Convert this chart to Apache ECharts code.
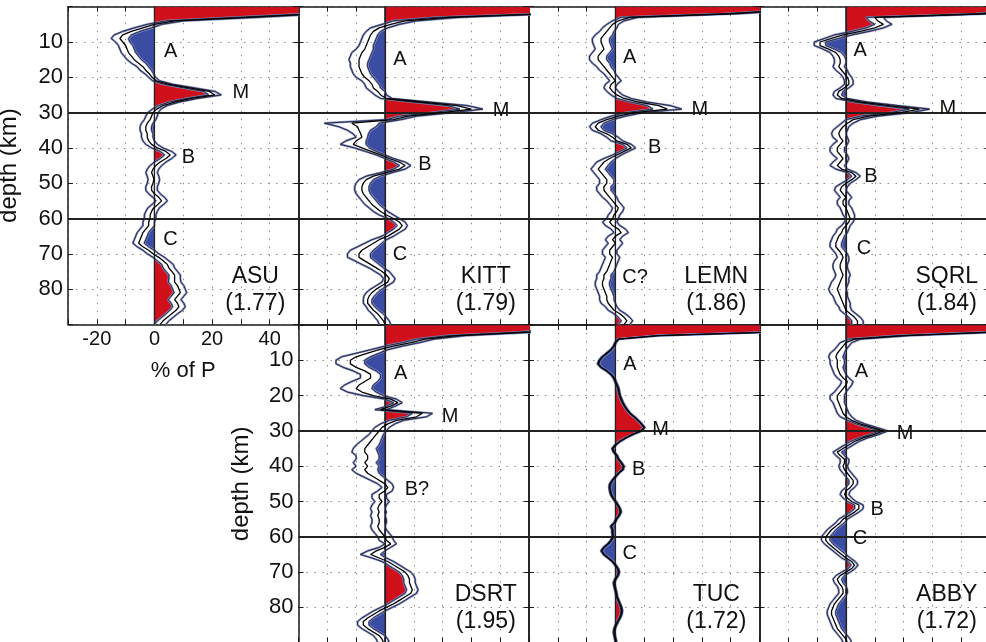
<!DOCTYPE html>
<html lang="en">
<head>
<meta charset="UTF-8">
<title>Receiver function depth stacks</title>
<script src="https://cdn.jsdelivr.net/npm/echarts@6/dist/echarts.min.js"></script>
<style>html,body{margin:0;padding:0;background:#fff;}</style>
</head>
<body>
<div id="chart" style="width:986px;height:642px;"></div>
<script type="text/javascript">
// depth samples (km) shared by every station
var DEPTH = [0,1,2,3,4,5,6,7,8,9,10,11,12,13,14,15,16,17,18,19,20,21,22,23,24,25,26,27,28,29,
    30,31,32,33,34,35,36,37,38,39,40,41,42,43,44,45,46,47,48,49,50,51,52,53,54,55,56,57,58,59,
    60,61,62,63,64,65,66,67,68,69,70,71,72,73,74,75,76,77,78,79,80,81,82,83,84,85,86,87,88,89,90];

var X_LABELS = [-20, 0, 20, 40];
var Y_LABELS = [10, 20, 30, 40, 50, 60, 70, 80];

var STATIONS = ['ASU', 'KITT', 'LEMN', 'SQRL', 'DSRT', 'TUC', 'ABBY'];
var RATIOS = ['(1.77)', '(1.79)', '(1.86)', '(1.84)', '(1.95)', '(1.72)', '(1.72)'];

// mean amplitude (% of P) and half-width of the bootstrap band
var ASU_MEAN = [60,60,56,32,7,0,-4,-8,-11,-12, -11,-10,-9.5,-9,-8,-7,-5.5,-4,-3,-1.8,
    -0.8,0.6,5,12,19,21,13,7,3,0.8, -0.5,-1,-1.5,-2.5,-3,-3,-2.5,-2.5,-2,-1,
    1,4,5.5,4,2,0.5,-0.5,-1,-0.5,-0.2, -0.5,-1,-1,0,1.5,2.5,1.2,-0.3,-1,-1.5,
    -1.5,-2,-2,-3,-4,-4.5,-5,-5.5,-4,-2, -0.5,1.5,3,4.5,5,6,7,7,7,8,
    8.5,9,8,7,8,8.5,7.5,6,4.5,3,2];
var ASU_SD = [2,2,3,4,3,2.5,3,3,3,3, 2.5,2.5,2.5,2.5,2.5,2.5,2.5,2,2,1.5,
    1.2,1.2,1.5,1.8,2,2.2,2,1.8,1.5,1.5, 1.8,2,2,2,2,2,2,2,2,2,
    2,2,2,2,2,2,2,2,2,2, 2,2,2,2,2,2,2,2,2,2,
    2,2,2,2,2,2,2,2,2,2, 2,2,2,2,2,2,2,2,2.2,2.2,
    2.2,2.2,2.2,2.2,2.2,2.2,2.2,2,2,2,2];

var KITT_MEAN = [60,60,56,22,7,2,-2,-4,-5,-5.5, -6,-6.5,-7,-8,-8.5,-9,-9,-9,-8.5,-8,
    -7,-5.5,-4.5,-4,-2.5,-1.5,0.5,12.5,25,30, 20,8,3,-11.5,-9.5,-9,-8.4,-8,-10,-11,
    -8,-4.8,-1.5,1.5,5,7,5,0.5,-4,-6.5, -7.5,-8,-8,-7.5,-6.5,-5.5,-4.5,-3,-1.5,0.5,
    3,5,6,5,3,1,-2,-4,-6,-8, -9,-9,-7,-5,-3,-1,0.5,1.5,1,-1,
    -3,-4.5,-5.5,-6,-6,-5,-4,-2.5,-1.5,-0.5,0];
var KITT_SD = [2,2,3,4,4,3,3,2.5,2.5,2.5, 2.5,2.5,3,3.5,3.5,3.5,3,3,3,3,
    3,2.5,2.5,2.5,2.5,2,2,3,3.5,4, 3.5,3,2.5,9.5,6.5,4,2.7,2,3.5,4.5,
    2.6,1.9,1.5,1.5,2,2,2,2,2.5,2.5, 2.5,2.5,2.5,2.5,2.5,2.5,2.5,2.5,2.5,2.5,
    2,2,1.8,2,2,2,2.5,3,3.5,4, 4,4,3.5,3,2.5,2.5,2,2,2,2,
    2,2,1.8,1.5,1.5,1.5,1.8,2,2,2,2];

var LEMN_MEAN = [60,60,40,5,1,-1,-2,-3,-4,-5, -5,-4.5,-4,-5,-6,-6,-5,-4,-3,-2,
    -1,0,-1.5,-2,-1,0.5,3,8,15,18, 6.7,1,-3,-6,-7,-6,-3,-1,0.5,4,
    5.5,3,0.5,-2,-4,-5,-6,-5,-4,-3, -3,-4,-4,-3,-2,-1,0,1,0.5,-0.5,
    -1,-2,-1,1,2,0,-1,0,-1,-2, -2,-1,-1.5,-2,-2.5,-3,-4,-4,-4.5,-4.5,
    -4,-3.5,-3,-3,-2.5,-1.5,-0.5,1.5,3,4,3];
var LEMN_SD = [2,2,3,3,2,2,2.5,2.5,3,3, 3,3,3,3,3,3,3,2.5,2.5,2,
    2,2,2,2,2,2,2.5,3,4,5, 3,2.5,2,2,2,2,2,2,2,1.5,
    1.5,1.5,1.5,2,2.5,2.5,2.5,2.5,2.5,2.5, 2.5,2.5,2.5,2.5,2.5,2,2,2,2,2,
    2,2.5,2.5,2.5,2.5,2.5,2.5,2.5,2.5,2.5, 2.5,2.5,2.5,2.5,2.5,2.5,2.5,2.5,2.5,2.5,
    2.5,2.5,2.5,2.5,2.5,2,2,2,2,2,2];

var SQRL_MEAN = [60,58,48,10,11,13,10,5,-1,-5, -9,-9,-6,-3.5,-2.5,-2,-2,-2.5,-1.5,-0.5,
    0.5,1,1,-0.5,-2.5,-3,-1.5,5,15,25.5, 19,8,2.5,0.5,-1,-2,-2.5,-2,-1,-2,
    -3,-3,-2,-1,-2,-3,-1.5,2,3.5,2, 0,-1.5,-2,-1,0,-1,-1,0,0.5,1,
    1.5,1,0,-1,-1.5,-2.5,-3,-3.5,-3.5,-2.5, -1.5,-1,-1.5,-2,-2,-1.5,-1,-1.5,-2,-2.5,
    -3,-2.5,-2,-1.5,-1,-0.5,0,1.5,3,4,4];
var SQRL_SD = [2,2,3,3,3,3,3,3,3,2.5, 2,2,2,2,2,2,2,2,2,1.5,
    1.5,1.5,1.5,1.5,1.5,1.5,2,2.5,3,3.5, 3.5,3,2.5,2,2,2.5,2.5,2.5,2,2.5,
    2.5,2.5,2.5,2,2.5,2.5,2,1.5,1.5,1.5, 1.5,2,2,2,2,2,2,2,2,2,
    1.5,1.5,1.5,2,2,2,2,2,2,2, 2,2,2.5,2.5,2.5,2.5,2.5,2.5,3,3,
    3,3,2.5,2.5,2.5,2,2,2,2,2,2];

var DSRT_MEAN = [60,60,50,25,14,9,3,-2,-6,-10, -12,-12,-10,-7,-5,-5,-7,-9,-10,-8,
    -4,2,4.5,2,-1.5,13,11,4,1,-1, -2,-3,-4,-5,-6,-7,-7,-6,-6,-7,
    -6,-7,-6,-4,-2,0,1,0,-2,-2, -1,-2,-2.5,-2,-2.5,-2,-2,-2.5,-2,-1,
    0,0.5,2,0,-3,-5,-2,1,3,5, 7,8,8.5,8.5,9,9.5,9,7,5,3,
    0.5,-2,-4,-6,-7.5,-7.5,-6,-4,-2,-1,-0.5];
var DSRT_SD = [2,2,3,3,3,3,3,3,4,5, 5,5,4.5,4,3.5,3.5,4.5,5,5.5,5,
    3.5,2,1.5,1.5,2,3.5,3.5,2.5,2.5,2.5, 2.5,2.5,3,3.5,4,4,4.5,4,4,4,
    4,4.5,4,3.5,3,2.5,2,2.5,2.5,2.5, 2.5,2.5,2.5,2.5,2.5,2.5,2.5,2.5,2.5,2.5,
    2.5,2.5,2,2,3,3.5,2.5,2,2,2, 2,2,2,2,2,2,2,2,2,2,
    2,2,2,2,2,2,2,2,2,2,2];

var TUC_MEAN = [60,60,55,15,1,0,-0.5,-1.5,-3,-4.5, -5.5,-6,-5,-3,-1.5,-0.5,0,0.5,1,1.2,
    1.5,2,2.5,3.2,4,5,6.5,7.8,9,10, 9,6,3.5,1.5,0,-1,-0.5,0.5,1,2,
    2.8,2.5,1,0,-1,-1.8,-2,-1.8,-1.5,-0.8, 0,0.8,1.5,1.8,1.2,0.3,-0.3,-1.5,-1,-1,
    -0.8,-1.5,-2.5,-4,-4.8,-4,-2.5,-1,0,0.8, 1.2,0.8,0,-0.5,-0.3,0,0.3,0.5,1,1.5,
    2,2.2,2,1.5,0.8,0.2,-0.3,-0.5,-0.3,0,0.2];
var TUC_SD = [0.3,0.3,0.3,0.3,0.3,0.3,0.3,0.3,0.3,0.3, 0.3,0.3,0.3,0.3,0.3,0.3,0.3,0.3,0.3,0.3,
    0.3,0.3,0.3,0.3,0.3,0.3,0.3,0.3,0.3,0.3, 0.3,0.3,0.3,0.3,0.3,0.3,0.3,0.3,0.3,0.3,
    0.3,0.3,0.3,0.3,0.3,0.3,0.3,0.3,0.3,0.3, 0.3,0.3,0.3,0.3,0.3,0.3,0.3,0.3,0.3,0.3,
    0.3,0.3,0.3,0.3,0.3,0.3,0.3,0.3,0.3,0.3, 0.3,0.3,0.3,0.3,0.3,0.3,0.3,0.3,0.3,0.3,
    0.3,0.3,0.3,0.3,0.3,0.3,0.3,0.3,0.3,0.3,0.3];

var ABBY_MEAN = [60,60,52,20,3,0,-1,-2,-3,-3.5, -3,-3,-3,-2.5,-2,-1,0.5,0,-1,-2,
    -3,-3,-2.5,-2,-1.5,-1,0,2,5,9, 13,10,6,3,1,-1,-3,-2,-0.5,-0.5,
    -1,-0.5,0.5,1.5,2.5,2.5,1.5,0,-0.5,0.5, 2,4.5,4.5,3,1,-1,-2,-3.5,-5,-6,
    -7,-7,-6,-4.5,-3,-1.5,0,2,3,2, 0,-2,-3,-2.5,-1.5,-1,-1,-2,-3,-4,
    -4.5,-5,-5,-4.5,-4,-3.5,-3,-2,-1,0,0.5];
var ABBY_SD = [2,2,2,2,2,2,2,2,2.5,2.5, 2.5,2.5,2,2,2,2,2,2,2,2,
    2.5,2.5,2,2,2,2,2,1.5,1.5,1.5, 1.5,1.5,1.5,1.5,1.5,1.5,1.5,1.5,1.5,1.5,
    1.5,1.5,1.5,1.5,1.5,1.5,1.5,1.5,1.5,1.5, 1.5,1.5,1.5,1.5,1.5,1.5,1.5,1.5,1.5,1.5,
    1.5,1.5,1.5,1.5,1.5,1.5,1.5,1.2,1.2,1.2, 1.5,1.5,1.5,1.5,1.5,1.5,1.5,1.5,1.5,1.5,
    1.5,1.5,1.5,1.5,1.5,1.5,1.5,1.5,1.5,1.5,1.5];

var FONT = '"Liberation Sans", Arial, sans-serif';
var RED = '#d0111c';
var BLUE = '#3a4da2';
var HALO = '#8590c8';
var INK = '#1a1a1a';

// panel layout: row/col in the 2x4 block, plus hand-placed letters (amplitude, depth)
var LEFTS = [68, 298.5, 529, 759.5];
var TOPS = [6.7, 325];
var PW = 230.5, PH = 317.7;

var panels = [
    {mean: ASU_MEAN, sd: ASU_SD, row: 0, col: 0, yLab: true, xLab: true,
        notes: [['A', 5.6, 12.8], ['M', 30, 24.2], ['B', 11.8, 42.6], ['C', 5.6, 65.9]]},
    {mean: KITT_MEAN, sd: KITT_SD, row: 0, col: 1,
        notes: [['A', 5.2, 15], ['M', 40.3, 29.3], ['B', 13.9, 44.8], ['C', 5.2, 70.3]]},
    {mean: LEMN_MEAN, sd: LEMN_SD, row: 0, col: 2,
        notes: [['A', 4.9, 14.5], ['M', 29.3, 29], ['B', 13.6, 40], ['C?', 6.8, 76.6]]},
    {mean: SQRL_MEAN, sd: SQRL_SD, row: 0, col: 3,
        notes: [['A', 4.9, 12.3], ['M', 35.4, 28.7], ['B', 8.7, 48.2], ['C', 6.3, 68.4]]},
    {mean: DSRT_MEAN, sd: DSRT_SD, row: 1, col: 1, yLab: true,
        notes: [['A', 5.5, 13.7], ['M', 22.6, 25.9], ['B?', 11.1, 46.7]]},
    {mean: TUC_MEAN, sd: TUC_SD, row: 1, col: 2,
        notes: [['A', 5, 11.3], ['M', 15.7, 29.7], ['B', 8.1, 41], ['C', 5, 64.6]]},
    {mean: ABBY_MEAN, sd: ABBY_SD, row: 1, col: 3,
        notes: [['A', 5.4, 13.2], ['M', 20.5, 30.7], ['B', 10.8, 52.4], ['C', 4.9, 60.4]]}
];

function makeFill(lo, hi) {
    return function (params, api) {
        var n = DEPTH.length;
        var pos = [api.coord([0, DEPTH[0]])];
        var neg = [api.coord([0, DEPTH[0]])];
        for (var k = 0; k < n; k++) {
            pos.push(api.coord([lo[k] > 0 ? lo[k] : 0, DEPTH[k]]));
            neg.push(api.coord([hi[k] < 0 ? hi[k] : 0, DEPTH[k]]));
        }
        pos.push(api.coord([0, DEPTH[n - 1]]));
        neg.push(api.coord([0, DEPTH[n - 1]]));
        return {
            type: 'group',
            children: [
                {type: 'polygon', shape: {points: pos}, style: {fill: RED, stroke: '#2a2445', lineWidth: 0.8}},
                {type: 'polygon', shape: {points: neg}, style: {fill: BLUE, stroke: '#2a2445', lineWidth: 0.8}}
            ]
        };
    };
}

function pairs(arr) {
    return DEPTH.map(function (d, k) { return [arr[k], d]; });
}

var boxLine = {show: true, onZero: false, lineStyle: {color: INK, width: 1.5}};
var boxTick = {show: true, inside: true, length: 5, lineStyle: {color: INK, width: 1}};
var dotted = {show: true, lineStyle: {color: '#8c8c8c', width: 1, type: [1.5, 6.5]}};

var grids = [], xAxes = [], yAxes = [], series = [];

panels.forEach(function (p, i) {
    var lo = p.mean.map(function (v, k) { return v - p.sd[k]; });
    var hi = p.mean.map(function (v, k) { return v + p.sd[k]; });

    grids.push({left: LEFTS[p.col], top: TOPS[p.row], width: PW, height: PH,
        containLabel: false, outerBoundsMode: 'none'});

    xAxes.push({
        gridIndex: i, type: 'value', min: -30, max: 50, interval: 10, position: 'bottom',
        axisLine: boxLine, axisTick: boxTick, splitLine: dotted,
        axisLabel: {
            show: !!p.xLab, margin: 5, color: '#111', fontSize: 20, fontFamily: FONT,
            formatter: function (v) { return X_LABELS.indexOf(v) >= 0 ? String(v) : ''; }
        },
        name: p.xLab ? '% of P' : '', nameLocation: 'middle', nameGap: 36,
        nameTextStyle: {color: '#111', fontSize: 22, fontFamily: FONT}
    });
    xAxes.push({
        gridIndex: i, type: 'value', min: -30, max: 50, interval: 10, position: 'top',
        axisLine: boxLine, axisTick: boxTick, axisLabel: {show: false}, splitLine: {show: false}
    });
    yAxes.push({
        gridIndex: i, type: 'value', inverse: true, min: 0, max: 90, interval: 10, position: 'left',
        axisLine: boxLine, axisTick: boxTick, splitLine: dotted,
        axisLabel: {
            show: !!p.yLab, margin: 5, color: '#111', fontSize: 22, fontFamily: FONT,
            formatter: function (v) { return Y_LABELS.indexOf(v) >= 0 ? String(v) : ''; }
        },
        name: p.yLab ? 'depth (km)' : '', nameLocation: 'middle', nameGap: p.row === 0 ? 47 : 45,
        nameTextStyle: {color: '#111', fontSize: 24, fontFamily: FONT}
    });
    yAxes.push({
        gridIndex: i, type: 'value', inverse: true, min: 0, max: 90, interval: 10, position: 'right',
        axisLine: boxLine, axisTick: boxTick, axisLabel: {show: false}, splitLine: {show: false}
    });

    var xi = 2 * i, yi = 2 * i;

    series.push({
        type: 'custom', xAxisIndex: xi, yAxisIndex: yi, clip: true, z: 2, silent: true,
        data: [[0, 0]], renderItem: makeFill(lo, hi)
    });
    [lo, hi].forEach(function (b) {
        series.push({type: 'line', xAxisIndex: xi, yAxisIndex: yi, data: pairs(b), showSymbol: false,
            z: 3, silent: true, lineStyle: {color: HALO, width: 2.2}});
    });
    [lo, hi].forEach(function (b) {
        series.push({type: 'line', xAxisIndex: xi, yAxisIndex: yi, data: pairs(b), showSymbol: false,
            z: 4, silent: true, lineStyle: {color: '#1c1c2c', width: 0.9}});
    });

    var marks = p.notes.map(function (n) {
        return {coord: [n[1], n[2]], label: {formatter: n[0], fontSize: 20}};
    });
    marks.push({coord: [35, 76.5], label: {formatter: STATIONS[i], fontSize: 23}});
    marks.push({coord: [35, 84], label: {formatter: RATIOS[i], fontSize: 23}});

    series.push({
        type: 'line', xAxisIndex: xi, yAxisIndex: yi, data: pairs(p.mean), showSymbol: false,
        z: 5, silent: true, lineStyle: {color: '#000', width: 1.3},
        markLine: {
            silent: true, symbol: ['none', 'none'], label: {show: false},
            lineStyle: {color: '#222', width: 2, type: 'solid'},
            data: [{yAxis: 30}, {yAxis: 60}, {xAxis: 0, lineStyle: {width: 1.2, color: '#222'}}]
        },
        markPoint: {
            silent: true, symbol: 'circle', symbolSize: 1,
            itemStyle: {color: 'rgba(0,0,0,0)'},
            label: {show: true, position: 'inside', color: '#111', fontFamily: FONT},
            data: marks
        }
    });
});

var chart = echarts.init(document.getElementById('chart'));
chart.setOption({
    animation: false,
    backgroundColor: '#fff',
    grid: grids,
    xAxis: xAxes,
    yAxis: yAxes,
    series: series
});
</script>
</body>
</html>
